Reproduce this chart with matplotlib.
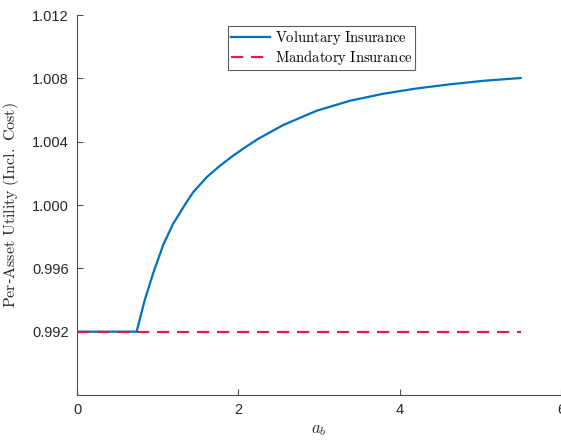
import matplotlib
matplotlib.use("Agg")
import matplotlib.pyplot as plt

plt.rcParams["font.family"] = ["Liberation Sans", "DejaVu Sans"]
plt.rcParams["mathtext.fontset"] = "cm"

# Asset holdings a_b and per-asset utility under each regime
a_b = [0.0, 0.739, 0.84, 0.945, 1.07, 1.19, 1.36, 1.442, 1.607, 1.772,
       1.937, 2.102, 2.246, 2.556, 2.97, 3.38, 3.80, 4.21, 4.62, 5.03, 5.5]
voluntary = [0.992, 0.992, 0.9940, 0.9957, 0.9975, 0.9988, 1.0002, 1.00082,
             1.00175, 1.00248, 1.00312, 1.00370, 1.00418, 1.00505, 1.00595,
             1.00658, 1.00703, 1.00736, 1.00762, 1.00784, 1.00802]
mandatory_x = [0.0, 5.5]
mandatory = [0.992, 0.992]

x_ticks = [0, 2, 4, 6]
y_ticks = [0.992, 0.996, 1.000, 1.004, 1.008, 1.012]

fig = plt.figure(figsize=(5.61, 4.40), dpi=100)
ax = fig.add_axes([77 / 561, 45 / 440, 484 / 561, 380 / 440])

ax.plot(a_b, voluntary, color="#0072BD", lw=1.6,
        label=r"$\mathrm{Voluntary\ Insurance}$", zorder=2)
ax.plot(mandatory_x, mandatory, color="#DC1F4A", lw=1.6, dashes=(5.5, 3.5),
        label=r"$\mathrm{Mandatory\ Insurance}$", zorder=3)

ax.set_xlim(0, 6)
ax.set_ylim(0.988, 1.012)
ax.set_xticks(x_ticks)
ax.set_xticklabels([str(t) for t in x_ticks])
ax.set_yticks(y_ticks)
ax.set_yticklabels([f"{t:.3f}" for t in y_ticks])

for side in ("top", "right"):
    ax.spines[side].set_visible(False)
for side in ("left", "bottom"):
    ax.spines[side].set_color("#4d4d4d")
    ax.spines[side].set_linewidth(0.8)
ax.tick_params(direction="in", length=4, width=0.8, color="#4d4d4d",
               labelsize=10.5, labelcolor="#262626", pad=6)

ax.set_xlabel(r"$a_b$", fontsize=12, color="#262626", labelpad=4)
ax.set_ylabel(r"$\mathrm{Per}$-$\mathrm{Asset\ Utility\ (Incl.\ Cost)}$",
              fontsize=11.5, color="#262626", labelpad=8)

leg = ax.legend(loc="upper left", bbox_to_anchor=(228 / 561, 1 - 26 / 440),
                bbox_transform=fig.transFigure, fontsize=10.5, frameon=True,
                fancybox=False, edgecolor="#333333", borderpad=0.2,
                handlelength=2.7, handletextpad=0.3, labelspacing=0.1,
                borderaxespad=0)
leg.get_frame().set_linewidth(0.8)

fig.savefig("out.png", dpi=100)
